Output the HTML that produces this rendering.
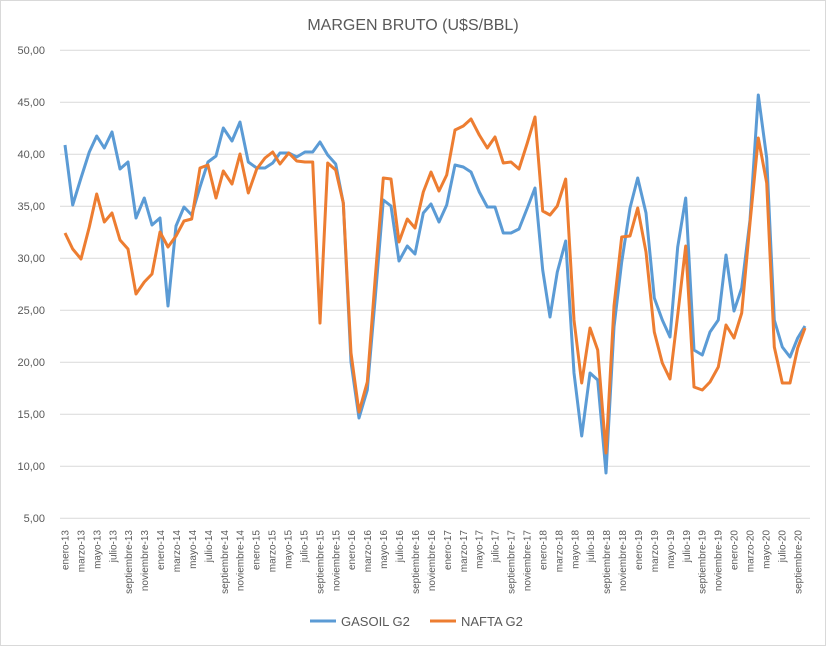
<!DOCTYPE html>
<html><head><meta charset="utf-8"><style>
body{margin:0;background:#fff;}
svg{display:block;font-family:"Liberation Sans",sans-serif;}
</style></head><body>
<svg width="826" height="646" viewBox="0 0 826 646">
<rect x="0.5" y="0.5" width="825" height="645" fill="#fff" stroke="#d9d9d9"/>
<text x="413" y="30" text-anchor="middle" font-size="16" fill="#595959">MARGEN BRUTO (U$S/BBL)</text>
<g stroke="#d9d9d9" stroke-width="1">
<line x1="60" x2="810" y1="50.3" y2="50.3"/><line x1="60" x2="810" y1="102.3" y2="102.3"/>
<line x1="60" x2="810" y1="154.3" y2="154.3"/><line x1="60" x2="810" y1="206.3" y2="206.3"/>
<line x1="60" x2="810" y1="258.3" y2="258.3"/><line x1="60" x2="810" y1="310.3" y2="310.3"/>
<line x1="60" x2="810" y1="362.3" y2="362.3"/><line x1="60" x2="810" y1="414.3" y2="414.3"/>
<line x1="60" x2="810" y1="466.3" y2="466.3"/><line x1="60" x2="810" y1="518.3" y2="518.3"/>
</g>
<g font-size="11" fill="#595959" text-anchor="end">
<text x="45" y="54">50,00</text><text x="45" y="106">45,00</text><text x="45" y="158">40,00</text>
<text x="45" y="210">35,00</text><text x="45" y="262">30,00</text><text x="45" y="314">25,00</text>
<text x="45" y="366">20,00</text><text x="45" y="418">15,00</text><text x="45" y="470">10,00</text>
<text x="45" y="522">5,00</text>
</g>
<g id="xl" font-size="10" fill="#595959" text-anchor="end"></g>
<polyline fill="none" stroke="#5b9bd5" stroke-width="3" stroke-linejoin="round" points="65,145 72.7,205 81,178 89.3,152 96.7,136 104.3,148 112,132 120,169 128,162 136,218 144.3,198 152,225 160,218 168,306 176,226 184,207 191.7,215 200,187 208,162 216,156 223.3,128 232,141 240,122 248.3,162 256.7,168 265,168 272.7,163 280,153 288.7,153 296.7,157 305,152 312.7,152 320,142 327.7,155 335.7,164 343.3,203 351,362 359,418 367.3,390 375.3,297 383.3,200 391,206 399,261 407.3,246 415,254 423.3,213 431,204 439,222 446.7,205 455,165 463.3,167 471,172 479.3,192 487.3,207 495,207 503.3,233 511,233 519,229 527.3,208 535,188 542.7,270 550,317 557.3,272 565.7,241 574,373 581.7,436 590,373 597.7,380 606,473 614,327 621.7,262 630,208 637.7,178 646,213 654.3,298 662.3,320 670,337 677.7,247 685.7,198 694,350 702.3,355 710,332 718.3,320 726,255 734,311 741.7,288 750,220 758.3,95 766.7,158 774.3,320 782.3,347 790,357 797.7,338 805,326"/>
<polyline fill="none" stroke="#ed7d31" stroke-width="3" stroke-linejoin="round" points="65,233 72.7,249 81,259 89.3,227 96.7,194 104.3,222 112,213 120,240 128,249 136,294 144.3,282 152,274 160,232 168,247 176,236 184,221 191.7,219 200,168 208,165 216,198 223.3,171 232,184 240,154 248.3,193 256.7,169 265,158 272.7,152 280,164 288.7,153 296.7,161 305,162 312.7,162 320,323 327.7,163 335.7,170 343.3,203 351,353 359,412 367.3,382 375.3,277 383.3,178 391,179 399,242 407.3,219 415,228 423.3,192 431,172 439,191 446.7,175 455,130 463.3,126 471,119 479.3,135 487.3,148 495,137 503.3,163 511,162 519,169 527.3,143 535,117 542.7,211 550,215 557.3,206 565.7,179 574,320 581.7,383 590,328 597.7,350 606,453 614,306 621.7,237 630,236 637.7,208 646,252 654.3,332 662.3,363 670,379 677.7,315 685.7,246 694,387 702.3,390 710,382 718.3,367 726,325 734,338 741.7,313 750,223 758.3,138 766.7,183 774.3,347 782.3,383 790,383 797.7,348 805,328"/>
<line x1="310" x2="336" y1="621" y2="621" stroke="#5b9bd5" stroke-width="3"/>
<text x="341" y="626" font-size="13" fill="#595959">GASOIL G2</text>
<line x1="430" x2="456" y1="621" y2="621" stroke="#ed7d31" stroke-width="3"/>
<text x="461" y="626" font-size="13" fill="#595959">NAFTA G2</text>
</svg>
<script>
var m=["enero","marzo","mayo","julio","septiembre","noviembre"],g=document.getElementById("xl"),s="",k=0;
for(var y=13;y<=20;y++)for(var j=0;j<6;j++){if(y==20&&j>4)break;var x=65+k*15.93+3.5;
s+='<text transform="translate('+x.toFixed(1)+',530) rotate(-90)">'+m[j]+'-'+y+'</text>';k++;}
g.innerHTML=s;
</script>
</body></html>
